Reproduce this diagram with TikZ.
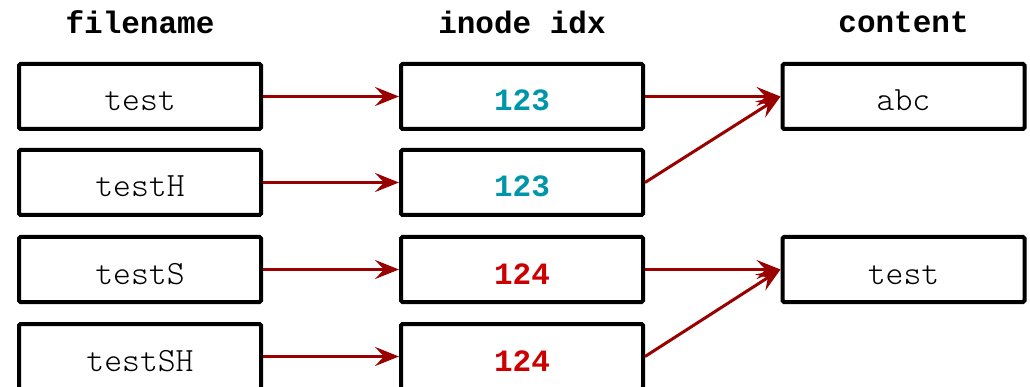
\documentclass[tikz,border=0pt]{standalone}
\usepackage{fontspec}
\setmonofont{Liberation Mono}
\newfontfamily\lightmono{Latin Modern Mono Light}
\usetikzlibrary{arrows.meta}
\definecolor{arrowred}{RGB}{153,0,0}
\definecolor{tealnum}{RGB}{0,150,170}
\definecolor{rednum}{RGB}{204,0,0}
\begin{document}
\begin{tikzpicture}[x=1pt,y=-1pt,
  cell/.style={draw=black,line width=4pt,rounded corners=1.5pt,minimum width=242pt,minimum height=65pt,inner sep=0pt,text height=29pt,text depth=0pt,font=\fontsize{34}{38}\selectfont\lightmono},
  head/.style={inner sep=0pt,font=\fontsize{31}{36}\selectfont\ttfamily\bfseries},
  num/.style={font=\fontsize{31}{36}\selectfont\ttfamily\bfseries},
  link/.style={draw=arrowred,line width=3pt,-{Stealth[length=24pt,width=19pt,inset=9pt]}}]
\useasboundingbox (0,0) rectangle (1030,387);
\node[head] (h1) at (140,22) {filename};
\node[head] (h2) at (522,22) {inode idx};
\node[head] (h3) at (903.5,22) {content};
\node[cell] (f1) at (140,96.5) {test};
\node[cell] (f2) at (140,182.5) {testH};
\node[cell] (f3) at (140,269.5) {testS};
\node[cell] (f4) at (140,356.5) {testSH};
\node[cell,num,text=tealnum] (i1) at (522,96.5) {123};
\node[cell,num,text=tealnum] (i2) at (522,182.5) {123};
\node[cell,num,text=rednum] (i3) at (522,269.5) {124};
\node[cell,num,text=rednum] (i4) at (522,356.5) {124};
\node[cell] (c1) at (903.5,96.5) {abc};
\node[cell] (c2) at (903.5,269.5) {test};
\draw[link] (f1.east) -- (i1.west);
\draw[link] (f2.east) -- (i2.west);
\draw[link] (f3.east) -- (i3.west);
\draw[link] (f4.east) -- (i4.west);
\draw[link] (i1.east) -- (c1.west);
\draw[link] (i2.east) -- (c1.west);
\draw[link] (i3.east) -- (c2.west);
\draw[link] (i4.east) -- (c2.west);
\end{tikzpicture}
\end{document}
